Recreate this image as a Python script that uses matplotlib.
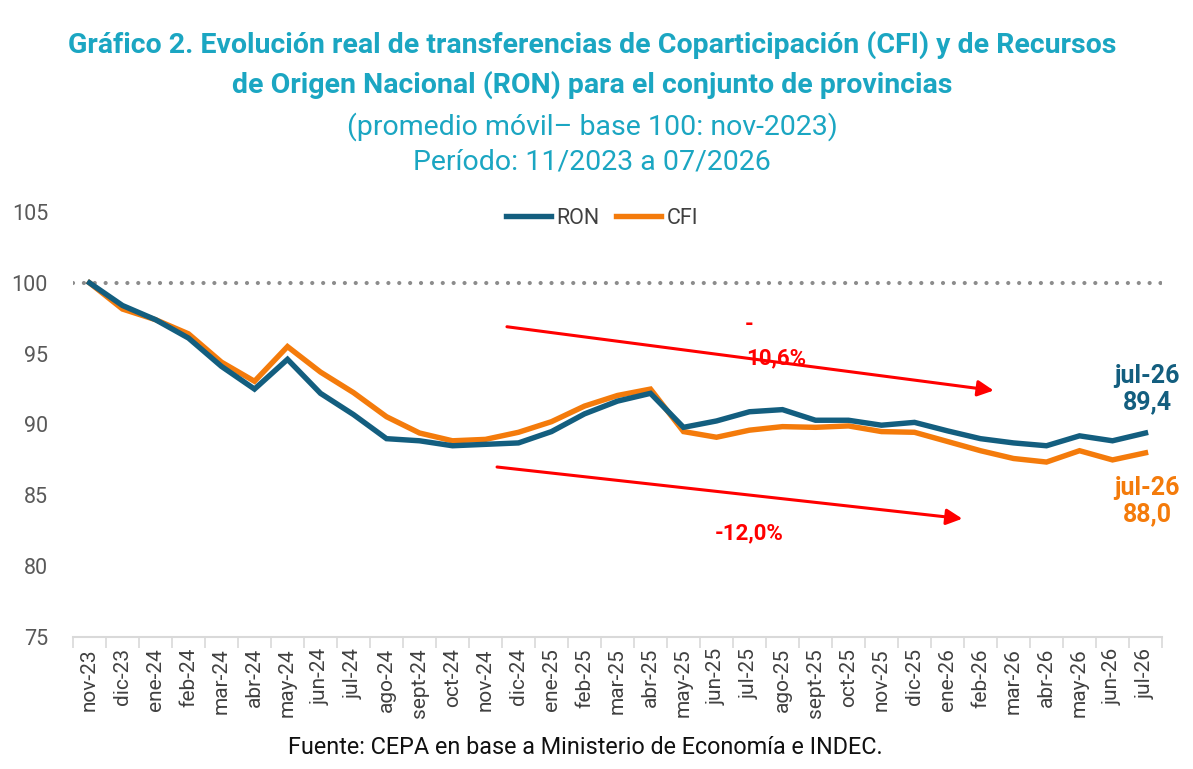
import matplotlib
matplotlib.use("Agg")
import matplotlib.pyplot as plt
from matplotlib.ticker import FixedLocator

plt.rcParams['font.family'] = ['Roboto', 'DejaVu Sans']

months = ["nov-23", "dic-23", "ene-24", "feb-24", "mar-24", "abr-24", "may-24", "jun-24",
          "jul-24", "ago-24", "sept-24", "oct-24", "nov-24", "dic-24", "ene-25", "feb-25",
          "mar-25", "abr-25", "may-25", "jun-25", "jul-25", "ago-25", "sept-25", "oct-25",
          "nov-25", "dic-25", "ene-26", "feb-26", "mar-26", "abr-26", "may-26", "jun-26", "jul-26"]

ron = [100.0, 98.4, 97.4, 96.1, 94.1, 92.5, 94.6, 92.2, 90.7, 89.0, 88.85, 88.5,
       88.6, 88.7, 89.5, 90.75, 91.65, 92.2, 89.8, 90.25, 90.9, 91.05, 90.3, 90.3,
       89.95, 90.15, 89.55, 89.0, 88.7, 88.5, 89.2, 88.85, 89.4]
cfi = [100.0, 98.15, 97.4, 96.4, 94.4, 93.05, 95.5, 93.7, 92.25, 90.55, 89.4, 88.85,
       88.95, 89.45, 90.2, 91.3, 92.05, 92.5, 89.5, 89.1, 89.6, 89.85, 89.8, 89.9,
       89.5, 89.45, 88.8, 88.15, 87.6, 87.35, 88.15, 87.5, 88.0]
y_ticks = [75, 80, 85, 90, 95, 100, 105]
series_names = ["RON", "CFI"]
var_labels = ["-\n10,6%", "-12,0%"]
end_labels = ["jul-26\n89,4", "jul-26\n88,0"]

C_RON = "#135E7F"
C_CFI = "#F47B0B"
C_TITLE = "#1BA6C2"

fig = plt.figure(figsize=(11.93, 7.69), dpi=100)
ax = fig.add_axes([73/1193, 1-637/769, (1162-73)/1193, (637-212)/769])

x = list(range(len(months)))
ax.axhline(100, color="#8C8C8C", lw=3.0, linestyle=(0, (0.01, 2.6)),
           dash_capstyle="round", zorder=1)
ax.plot(x, ron, color=C_RON, lw=3.9, label=series_names[0], zorder=3, solid_joinstyle="miter")
ax.plot(x, cfi, color=C_CFI, lw=3.9, label=series_names[1], zorder=2, solid_joinstyle="miter")

ax.set_xlim(-0.5, len(months) - 0.5)
ax.set_ylim(75, 105)
ax.set_yticks(y_ticks)
ax.set_yticklabels([str(v) for v in y_ticks])
ax.set_xticks(x)
ax.set_xticklabels(months, rotation=90)
ax.xaxis.set_minor_locator(FixedLocator([i - 0.5 for i in range(len(months) + 1)]))
ax.tick_params(axis="x", which="major", length=0, pad=8, labelsize=15, labelcolor="#404040")
ax.tick_params(axis="x", which="minor", length=8, width=1.2, color="#D9D9D9")
ax.tick_params(axis="y", length=0, pad=18, labelsize=15.5, labelcolor="#595959")
for s in ["top", "right", "left"]:
    ax.spines[s].set_visible(False)
ax.spines["bottom"].set_color("#D9D9D9")
ax.spines["bottom"].set_linewidth(1.5)

# arrows
ax.annotate("", xy=(27.4, 92.4), xytext=(12.65, 96.9),
            arrowprops=dict(arrowstyle="-|>", color="#FF0000", lw=2.2, mutation_scale=24,
                            shrinkA=0, shrinkB=0))
ax.annotate("", xy=(26.45, 83.35), xytext=(12.35, 87.0),
            arrowprops=dict(arrowstyle="-|>", color="#FF0000", lw=2.2, mutation_scale=24,
                            shrinkA=0, shrinkB=0))
ax.text(20.0, 97.0, var_labels[0].split("\n")[0], color="#FF0000", fontsize=16,
        fontweight="bold", ha="center", va="center")
ax.text(20.8, 94.7, var_labels[0].split("\n")[1], color="#FF0000", fontsize=16,
        fontweight="bold", ha="center", va="center")
ax.text(20.0, 82.3, var_labels[1], color="#FF0000", fontsize=16,
        fontweight="bold", ha="center", va="center")

ax.text(32.05, 92.5, end_labels[0], color=C_RON, fontsize=18, fontweight="bold",
        ha="center", va="center", linespacing=1.1)
ax.text(32.05, 84.6, end_labels[1], color=C_CFI, fontsize=18, fontweight="bold",
        ha="center", va="center", linespacing=1.1)

leg = fig.legend(loc="center", bbox_to_anchor=(602/1193, 1-218/769), ncol=2, frameon=False,
                 fontsize=15.5, handlelength=2.1, handletextpad=0.25, columnspacing=0.75)
for t in leg.get_texts():
    t.set_color("#404040")

fig.text(592/1193, 1-45/769, "Gráfico 2. Evolución real de transferencias de Coparticipación (CFI) y de Recursos",
         color=C_TITLE, fontsize=20.5, fontweight="bold", ha="center", va="center")
fig.text(592/1193, 1-85/769, "de Origen Nacional (RON) para el conjunto de provincias",
         color=C_TITLE, fontsize=20.5, fontweight="bold", ha="center", va="center")
fig.text(592/1193, 1-127/769, "(promedio móvil– base 100: nov-2023)",
         color=C_TITLE, fontsize=20.5, ha="center", va="center")
fig.text(592/1193, 1-162/769, "Período: 11/2023 a 07/2026",
         color=C_TITLE, fontsize=20.5, ha="center", va="center")
fig.text(585/1193, 1-748/769, "Fuente: CEPA en base a Ministerio de Economía e INDEC.",
         color="#111111", fontsize=16.8, ha="center", va="center")

fig.savefig("out.png", dpi=100, facecolor="white")
